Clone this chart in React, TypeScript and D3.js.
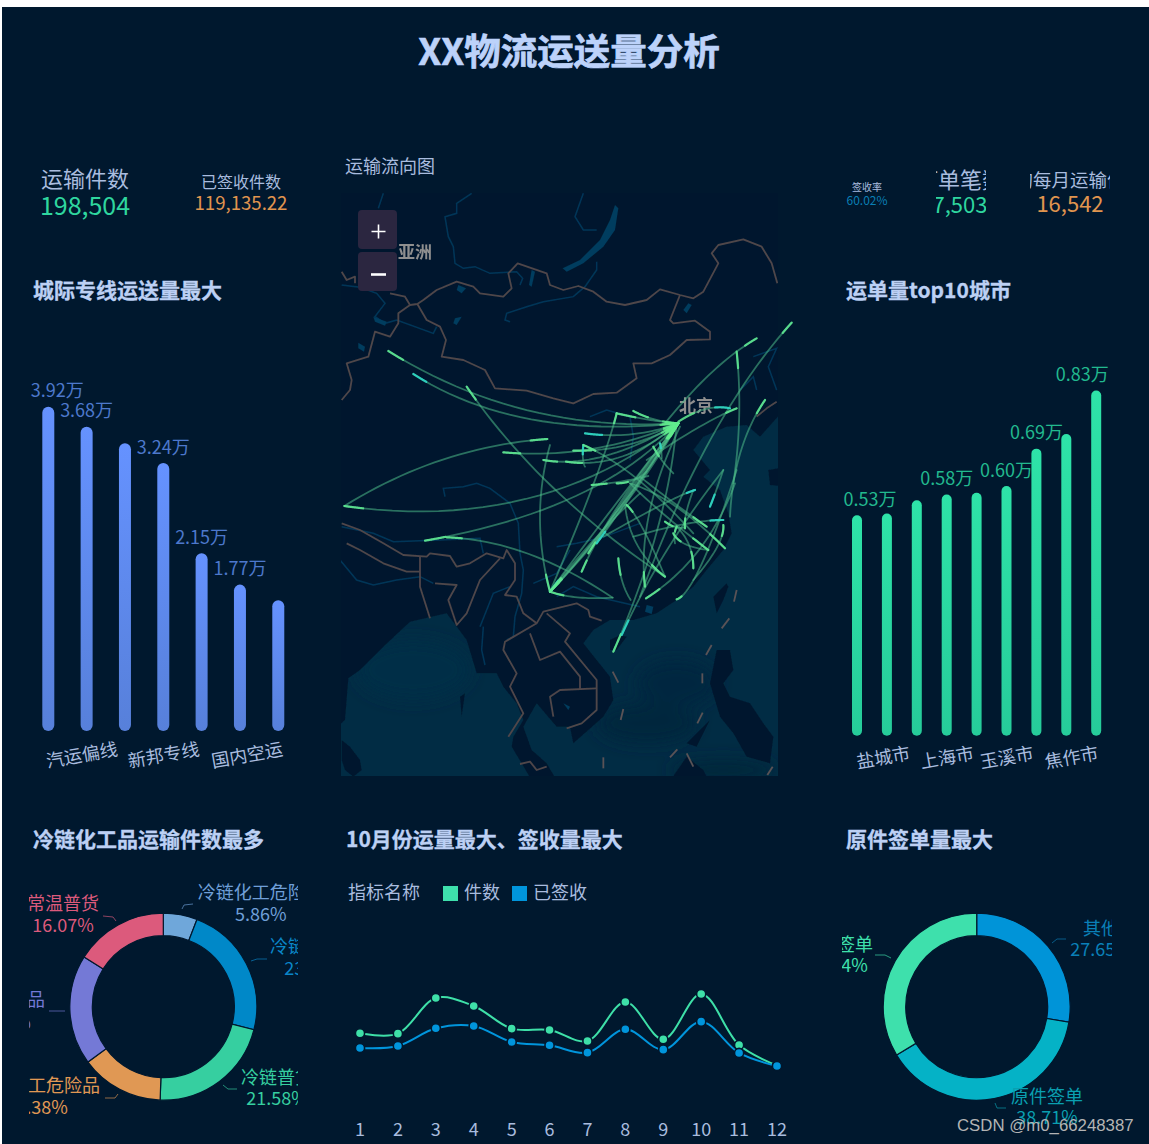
import React from "react";
import * as d3 from "d3";

type Pt = [number, number];

const BG = "#00182e";
const SEA = "#012c44";
const LAND_LINE = "#4f464a";
const RIVER = "#023659";
const TEXT = "#a9bcdf";
const TITLE = "#bcd0f4";
const CJK = "'Noto Sans CJK SC','Noto Sans',sans-serif";

const pageTitle = "XX物流运送量分析";

const barCats1 = ["", "汽运偏线", "", "新邦专线", "", "国内空运", ""];
const barVals1 = [3.92, 3.68, 3.48, 3.24, 2.15, 1.77, 1.58];
const barLabels1 = [true, true, false, true, true, true, false];
const barCats2 = ["盐城市", "", "", "上海市", "", "玉溪市", "", "焦作市", ""];
const barVals2 = [0.53, 0.534, 0.566, 0.58, 0.584, 0.6, 0.69, 0.725, 0.83];
const barLabels2 = [true, false, false, true, false, true, true, false, true];

const months = ["1", "2", "3", "4", "5", "6", "7", "8", "9", "10", "11", "12"];
const pieces = [15300, 15240, 21660, 20220, 16140, 15900, 13920, 20940, 14220, 22380, 13200, 9500];
const signed = [12660, 13020, 16200, 16620, 13740, 13140, 11820, 16020, 12360, 17400, 11760, 9420];

const pie1Names = ["冷链化工危险品", "冷链化工品", "冷链普货", "常温化工危险品", "常温危险品", "常温普货"];
const pie1Vals = [5.86, 23.1, 21.58, 14.38, 19.01, 16.07];
const pie1Colors = ["#6fa7da", "#0088c8", "#36cfa0", "#e09854", "#7479d6", "#dc5a7c"];
const pie1LabelColors = ["#6f9fd8", "#0a86c8", "#36cfa0", "#e09854", "#7479d6", "#dc5a7c"];
const pie2Names = ["其他", "原件签单", "电子签单"];
const pie2Vals = [27.65, 38.71, 33.64];
const pie2Colors = ["#0094d8", "#05b2c6", "#3ee0ac"];
const pie2LabelColors = ["#0a80b8", "#0a9fb0", "#3ee0ac"];

// Map geometry, in the map picture's own units
const landOutline: Pt[] = [[-20, 1740], [15, 1710], [25, 1585], [60, 1560], [130, 1490], [210, 1415], [320, 1390], [380, 1470], [410, 1570], [470, 1570], [490, 1610], [530, 1660], [550, 1710], [520, 1760], [515, 1790], [545, 1840], [580, 1900], [655, 1900], [620, 1840], [575, 1800], [550, 1730], [590, 1660], [650, 1730], [690, 1730], [700, 1780], [790, 1700], [820, 1650], [810, 1580], [770, 1530], [730, 1480], [760, 1440], [810, 1410], [880, 1410], [950, 1390], [1010, 1350], [1060, 1310], [1100, 1260], [1150, 1200], [1175, 1150], [1165, 1090], [1140, 1020], [1090, 980], [1110, 960], [1060, 900], [1090, 860], [1160, 830], [1220, 825], [1260, 860], [1340, 770], [1340, 100], [-20, 100]];
const islands: Pt[][] = [
  [[1160, 1300], [1120, 1340], [1130, 1390], [1150, 1350], [1165, 1310]],
  [[810, 1470], [840, 1455], [860, 1460], [830, 1500], [810, 1500]],
  [[5, 1770], [30, 1790], [60, 1830], [65, 1860], [40, 1880], [15, 1860], [5, 1830]],
  [[1130, 1500], [1170, 1500], [1180, 1560], [1150, 1600], [1170, 1640], [1230, 1660], [1270, 1720], [1300, 1760], [1290, 1840], [1220, 1820], [1180, 1750], [1140, 1700], [1110, 1600], [1120, 1550]],
  [[1040, 1780], [1110, 1710], [1070, 1790]],
  [[985, 1900], [1040, 1820], [1090, 1860], [1110, 1900]],
  [[360, 1640], [375, 1630], [365, 1700]],
  [[1285, 960], [1340, 950], [1340, 1010], [1290, 1005]],
];
const borders: Pt[][] = [
  [[5, 750], [30, 720], [35, 690], [20, 640], [85, 620], [105, 545], [150, 560], [175, 520], [175, 490], [210, 465], [232, 462], [250, 450], [290, 420], [350, 395], [400, 410], [420, 430], [490, 440], [515, 415], [505, 370], [533, 340], [620, 370], [630, 405], [670, 420], [715, 408], [760, 425], [800, 455], [855, 465], [920, 450], [960, 418], [1020, 435], [1060, 445], [1090, 425], [1135, 340], [1115, 310], [1135, 285], [1210, 268], [1265, 290], [1295, 340], [1312, 400]],
  [[150, 430], [195, 440], [210, 465]],
  [[5, 365], [20, 390], [45, 380], [45, 400]],
  [[232, 462], [260, 510], [300, 530], [318, 570], [305, 620], [370, 630], [435, 660], [465, 715], [560, 722], [640, 745], [700, 760], [760, 732], [830, 728], [890, 685], [880, 640], [935, 640], [990, 615], [1040, 570], [1110, 568], [1110, 545], [1065, 512], [1000, 520], [990, 510], [1020, 435]],
  [[5, 1120], [60, 1140], [130, 1180], [190, 1215], [260, 1220], [270, 1210], [330, 1218], [350, 1250], [390, 1240], [440, 1210], [490, 1225], [500, 1200], [525, 1240], [525, 1290], [495, 1335], [530, 1340], [550, 1390], [590, 1420], [610, 1385], [710, 1360], [745, 1380], [750, 1400], [785, 1412]],
  [[20, 1180], [60, 1200], [130, 1240], [200, 1265], [240, 1265]],
  [[240, 1220], [240, 1310], [270, 1405]],
  [[285, 1300], [350, 1305], [325, 1350], [350, 1425], [380, 1390], [420, 1290], [480, 1225]],
  [[590, 1420], [495, 1475], [490, 1500], [530, 1570], [510, 1610], [550, 1690], [505, 1760]],
  [[620, 1390], [690, 1450], [675, 1475], [770, 1590], [770, 1680], [725, 1720], [680, 1735]],
  [[570, 1450], [600, 1530], [660, 1505], [720, 1580], [720, 1620]],
  [[640, 1700], [630, 1640], [660, 1620], [770, 1615]],
  [[540, 1842], [570, 1835], [590, 1860], [620, 1850]],
  [[1250, 800], [1280, 775], [1310, 755]],
];
const dashes: Pt[][] = [
  [[1190, 1320], [1182, 1355]], [[1168, 1405], [1145, 1435]], [[1115, 1485], [1098, 1515]],
  [[1087, 1570], [1087, 1600]], [[1088, 1688], [1072, 1720]], [[1012, 1798], [990, 1822]],
  [[818, 1565], [835, 1598]], [[850, 1677], [842, 1710]], [[790, 1822], [790, 1855]],
  [[1040, 1810], [1060, 1850]], [[1298, 1850], [1282, 1875]],
];
const rivers: Pt[][] = [
  [[130, 130], [115, 175]],
  [[395, 130], [350, 160], [350, 190], [315, 200], [325, 260], [340, 290], [345, 340], [370, 355], [405, 350], [450, 370], [530, 365], [548, 385], [540, 405]],
  [[730, 130], [705, 200], [730, 240], [770, 240]],
  [[770, 335], [770, 360], [735, 410], [700, 440], [610, 455], [560, 470], [500, 490], [495, 510], [510, 515]],
  [[5, 405], [60, 412], [110, 430], [135, 460], [105, 500], [135, 520], [170, 510], [280, 550], [290, 530]],
  [[750, 800], [800, 780], [870, 800], [880, 860], [870, 930]],
  [[1240, 620], [1310, 595], [1285, 650], [1310, 720]],
  [[1200, 720], [1240, 680], [1250, 720]],
  [[315, 1040], [310, 1015], [370, 1010], [410, 1000], [450, 1015], [510, 1060], [535, 1120], [540, 1210], [550, 1260], [545, 1330], [525, 1400], [520, 1460], [500, 1470]],
  [[0, 1230], [50, 1290], [100, 1305], [170, 1290], [240, 1280], [280, 1300]],
  [[5, 1130], [100, 1150], [160, 1175], [300, 1170], [420, 1165], [430, 1210]],
  [[420, 1430], [460, 1330], [510, 1310]],
  [[430, 1430], [425, 1500], [435, 1545]],
  [[650, 1190], [710, 1180], [780, 1165], [900, 1120]],
  [[580, 1300], [650, 1270], [690, 1200]],
  [[650, 1340], [700, 1310], [770, 1340], [900, 1370]],
];
const lakes: Pt[][] = [
  [[825, 165], [835, 175], [825, 240], [790, 290], [730, 340], [680, 365], [668, 355], [720, 330], [780, 270], [810, 210]],
  [[575, 360], [585, 365], [575, 410], [567, 405]],
  [[355, 405], [378, 415], [365, 430], [350, 420]],
  [[345, 505], [365, 500], [350, 525], [340, 520]],
  [[55, 578], [75, 590], [72, 605], [55, 595]],
  [[1045, 460], [1055, 465], [1040, 490], [1030, 480]],
  [[100, 500], [140, 515], [135, 527], [105, 515]],
  [[920, 1365], [940, 1370], [935, 1392], [915, 1385]],
  [[670, 1660], [690, 1670], [685, 1680]],
];
const seaShades: [number, number, number, number, string][] = [
  [920, 1720, 150, 60, "#01253d"], [1010, 1600, 120, 70, "#012640"], [220, 1560, 170, 90, "#012e47"],
  [1150, 1860, 160, 30, "#01253a"],
];

// start x, y, control x, y, end x, y, cyan head
const routes: [number, number, number, number, number, number, number][] = [
  [145, 603, 540, 849, 1015, 820, 0], [220, 672, 530, 870, 1015, 820, 1], [380, 710, 600, 1030, 975, 1280, 0],
  [622, 867, 300, 890, 13, 1068, 0], [13, 1068, 600, 1150, 1015, 820, 0], [255, 1172, 780, 1080, 1015, 820, 0],
  [320, 1162, 560, 1170, 818, 1343, 0], [490, 907, 760, 930, 1015, 820, 0], [700, 902, 880, 905, 1015, 820, 0],
  [735, 850, 880, 870, 1015, 820, 1], [830, 790, 790, 950, 630, 1325, 0], [830, 790, 940, 815, 1015, 820, 0],
  [610, 930, 780, 960, 1015, 820, 0], [678, 935, 850, 960, 1015, 820, 0], [730, 885, 725, 930, 735, 950, 1],
  [730, 885, 880, 950, 1060, 1150, 0], [880, 783, 940, 815, 1015, 820, 0], [1250, 565, 1120, 640, 975, 820, 0],
  [1190, 605, 1210, 800, 1180, 1000, 0], [1355, 518, 1100, 800, 900, 1340, 0], [1275, 750, 1180, 890, 1170, 1100, 0],
  [1190, 775, 1100, 810, 920, 930, 0], [1170, 775, 1100, 760, 1015, 815, 1], [820, 1505, 985, 1130, 1010, 820, 0],
  [845, 1455, 960, 1200, 1150, 960, 1], [630, 1325, 780, 1120, 1015, 820, 1], [630, 1325, 830, 1110, 1015, 820, 0],
  [630, 1325, 860, 1090, 1015, 820, 0], [630, 1325, 800, 1150, 1015, 820, 0], [630, 1325, 570, 1100, 630, 885, 0],
  [725, 1265, 800, 1090, 1015, 820, 0], [745, 1210, 840, 1060, 1015, 820, 0], [770, 1180, 880, 1030, 1015, 820, 1],
  [835, 1225, 840, 1300, 872, 1350, 0], [1010, 1348, 1070, 1330, 1190, 960, 0], [918, 1345, 1100, 1230, 1185, 1000, 0],
  [915, 1310, 890, 1100, 1020, 830, 0], [975, 1280, 870, 1200, 855, 1065, 0], [1155, 1195, 1000, 1040, 870, 1000, 0],
  [1105, 1200, 960, 1090, 870, 1000, 0], [1100, 1130, 1000, 1060, 900, 980, 0], [1150, 1110, 1050, 1110, 880, 1160, 1],
  [1065, 1020, 1000, 1040, 790, 1160, 1], [1110, 1070, 1130, 1020, 1150, 960, 1], [1000, 1150, 1020, 1190, 1105, 1200, 0],
  [1060, 1255, 1060, 1180, 1010, 1130, 0], [1150, 1125, 1155, 1180, 1060, 1290, 0], [975, 1115, 1010, 1140, 1035, 1132, 0],
  [1010, 1130, 1000, 1150, 1005, 1180, 0], [755, 1005, 830, 1000, 925, 978, 0], [830, 1000, 880, 1000, 920, 965, 0],
  [960, 880, 965, 900, 965, 925, 1], [940, 890, 960, 930, 1000, 970, 0], [1035, 1135, 1030, 1100, 1060, 1020, 0],
  [860, 1065, 900, 1100, 975, 1280, 0], [630, 1325, 700, 1350, 818, 1343, 0], [630, 1325, 760, 1160, 900, 1030, 0],
];

const mx = d3.scaleLinear().domain([0, 1380]).range([340, 800]);
const my = d3.scaleLinear().domain([0, 1920]).range([150, 790]);
const mapLine = d3.line<Pt>().x((d) => mx(d[0])).y((d) => my(d[1]));
const mapPoly = (p: Pt[]) => mapLine(p) + "Z";

function bezier(r: number[], t: number): Pt {
  const u = 1 - t;
  return [u * u * r[0] + 2 * u * t * r[2] + t * t * r[4], u * u * r[1] + 2 * u * t * r[3] + t * t * r[5]];
}
function curve(r: number[], t0: number, t1: number) {
  return mapLine(d3.range(0, 25).map((i) => bezier(r, t0 + ((t1 - t0) * i) / 24)));
}
const headLen = (r: number[]) => Math.min(0.35, 50 / Math.hypot(r[4] - r[0], r[5] - r[1]));

function Bars({ vals, cats, show, x0, step, w, base, perUnit, color, labelColor, id, labelPos, catPos, catY }: any) {
  const x = (i: number) => x0 + i * step;
  const y = d3.scaleLinear().domain([0, 1]).range([base, base - perUnit]);
  return (
    <g>
      <defs>
        <linearGradient id={id} x1="0" y1="0" x2="0" y2="1">
          <stop offset="0" stopColor={color[0]} />
          <stop offset="1" stopColor={color[1]} />
        </linearGradient>
      </defs>
      {vals.map((v: number, i: number) => (
        <rect key={i} x={x(i) - w / 2} y={y(v)} width={w} height={base - y(v)} rx={w / 2} fill={`url(#${id})`} />
      ))}
      {vals.map((v: number, i: number) =>
        show[i] ? (
          <text key={i} x={x(i) + labelPos(i)} y={y(v) - 9.5} textAnchor="middle" fontSize={18} fill={labelColor} fontFamily={CJK}>
            {v.toFixed(2)}万
          </text>
        ) : null,
      )}
      {cats.map((c: string, i: number) =>
        c ? (
          <text key={i} x={x(i) + catPos(i)} y={catY} textAnchor="middle" dominantBaseline="central" fontSize={18} fill={TEXT} fontFamily={CJK} transform={`rotate(-10 ${x(i) + catPos(i)} ${catY})`}>
            {c}
          </text>
        ) : null,
      )}
    </g>
  );
}

function Donut({ vals, colors, cx, cy }: any) {
  const arcs = d3.pie<number>().sort(null)(vals);
  const a = d3.arc<any>().innerRadius(71).outerRadius(93.5);
  return (
    <g transform={`translate(${cx} ${cy})`}>
      {arcs.map((d, i) => (
        <path key={i} d={a(d) as string} fill={colors[i]} stroke={BG} strokeWidth={1.2} />
      ))}
    </g>
  );
}

const pie1Label: [number, number, number][] = [[260.7, 891, 913], [315, 945, 967], [277, 1076, 1097], [37, 1084, 1106], [0, 998, 1021], [63, 902, 924]];
const pie1Leader: Pt[][] = [
  [[182, 909], [184, 905], [193, 904]], [[251, 961], [257, 959], [267, 959]], [[223, 1085], [228, 1089], [237, 1089]],
  [[118, 1094], [115, 1098], [105, 1098]], [[65, 1011], [49, 1011]], [[116, 921], [113, 917], [103, 916]],
];
const pie2Label: [number, number, number][] = [[1101, 927, 948], [1047, 1095, 1116], [837, 943, 964]];
const pie2Leader: Pt[][] = [[[1052, 943], [1057, 939], [1066, 939]], [[995, 1103], [997, 1108], [1006, 1108]], [[891, 958], [885, 955], [875, 955]]];

function PieLabels({ names, vals, colors, pos, leaders, clip }: any) {
  const l = d3.line<Pt>();
  return (
    <g>
      {leaders.map((p: Pt[], i: number) => (
        <path key={i} d={l(p) as string} fill="none" stroke={colors[i]} strokeOpacity={0.65} strokeWidth={1} />
      ))}
      <g clipPath={`url(#${clip})`} fontFamily={CJK} fontSize={18} textAnchor="middle">
        {names.map((n: string, i: number) => (
          <g key={i} fill={colors[i]}>
            <text x={pos[i][0]} y={pos[i][1]} dominantBaseline="central">{n}</text>
            <text x={pos[i][0]} y={pos[i][2]} dominantBaseline="central">{vals[i].toFixed(2)}%</text>
          </g>
        ))}
      </g>
    </g>
  );
}

function Stat({ x, y1, y2, label, value, s1, s2, color, clip }: any) {
  return (
    <g clipPath={clip ? `url(#${clip})` : undefined} fontFamily={CJK} textAnchor="middle">
      <text x={x} y={y1} fontSize={s1} fill={TEXT} dominantBaseline="central">{label}</text>
      <text x={x} y={y2} fontSize={s2} fill={color} dominantBaseline="central">{value}</text>
    </g>
  );
}

function MapPanel() {
  return (
    <g>
      <defs>
        <clipPath id="mapClip"><rect x={341} y={193} width={437} height={583} /></clipPath>
        <filter id="soft" x="-5%" y="-5%" width="110%" height="110%"><feGaussianBlur stdDeviation="0.5" /></filter>
        <filter id="softLine" x="-5%" y="-5%" width="110%" height="110%"><feGaussianBlur stdDeviation="0.3" /></filter>
        <filter id="shade" x="-30%" y="-30%" width="160%" height="160%"><feGaussianBlur stdDeviation="8" /></filter>
        <filter id="blurText" x="-20%" y="-20%" width="140%" height="140%"><feGaussianBlur stdDeviation="0.6" /></filter>
      </defs>
      <g clipPath="url(#mapClip)">
        <rect x={341} y={193} width={437} height={583} fill={SEA} />
        <g filter="url(#shade)">
          {seaShades.map((s, i) => (
            <ellipse key={i} cx={mx(s[0])} cy={my(s[1])} rx={s[2] / 3} ry={s[3] / 3} fill={s[4]} />
          ))}
        </g>
        <g filter="url(#soft)">
          <path d={mapPoly(landOutline)} fill={BG} />
          {islands.map((p, i) => <path key={i} d={mapPoly(p)} fill={BG} />)}
          {rivers.map((p, i) => <path key={i} d={mapLine(p) as string} fill="none" stroke={RIVER} strokeWidth={1.5} />)}
          {lakes.map((p, i) => <path key={i} d={mapPoly(p)} fill="#023c5e" />)}
          {borders.map((p, i) => <path key={i} d={mapLine(p) as string} fill="none" stroke={LAND_LINE} strokeWidth={1.8} strokeLinejoin="round" />)}
          {dashes.map((p, i) => <path key={i} d={mapLine(p) as string} fill="none" stroke="#5a5256" strokeWidth={1.8} />)}
        </g>
        <g filter="url(#blurText)" fontFamily={CJK} fontWeight={700} fontSize={17} fill="#8f8f8f">
          <text x={398} y={258}>亚洲</text>
          <text x={679} y={412}>北京</text>
        </g>
      </g>
      <g fill="none" strokeLinecap="round" filter="url(#softLine)">
        {routes.map((r, i) => (
          <path key={i} d={curve(r, 0, 1) as string} stroke="#4cbc88" strokeOpacity={0.55} strokeWidth={1.8} />
        ))}
        {routes.map((r, i) => (
          <path key={i} d={curve(r, 0, headLen(r)) as string} stroke={r[6] ? "#2fd8c6" : "#5ee792"} strokeOpacity={0.9} strokeWidth={2.2} />
        ))}
        {routes.filter((r) => r[4] === 1015).map((r, i) => (
          <path key={i} d={curve(r, 1 - headLen(r) * 0.9, 1) as string} stroke="#62ec8e" strokeOpacity={0.75} strokeWidth={2.2} />
        ))}
      </g>
      <g>
        <rect x={358} y={210} width={39} height={39} rx={4} fill="#2b2640" />
        <rect x={358} y={252} width={39} height={39} rx={4} fill="#2b2640" />
        <path d="M371.5 231.5h14M378.5 224.5v14" stroke="#fff" strokeWidth={1.6} />
        <path d="M371 274.5h15" stroke="#fff" strokeWidth={2.6} />
      </g>
    </g>
  );
}

function LineChart() {
  const x = d3.scalePoint<string>().domain(months).range([360, 777]);
  const y = d3.scaleLinear().domain([0, 24000]).range([1118.3, 985]);
  const line = d3.line<number>().x((_, i) => x(months[i]) as number).y((d) => y(d)).curve(d3.curveCatmullRom.alpha(0.5));
  const series: [number[], string][] = [[pieces, "#3ee0a8"], [signed, "#0095dc"]];
  return (
    <g fontFamily={CJK}>
      <text x={348} y={891} fontSize={18} fill={TEXT} dominantBaseline="central">指标名称</text>
      <rect x={443} y={886} width={15} height={15} fill="#3ee0ac" />
      <text x={464} y={891} fontSize={18} fill={TEXT} dominantBaseline="central">件数</text>
      <rect x={512} y={886} width={15} height={15} fill="#0095dc" />
      <text x={533} y={891} fontSize={18} fill={TEXT} dominantBaseline="central">已签收</text>
      {series.map(([v, c], k) => (
        <g key={k}>
          <path d={line(v) as string} fill="none" stroke={c} strokeWidth={2} />
          {v.map((d, i) => (
            <circle key={i} cx={x(months[i])} cy={y(d)} r={4.6} fill={c} stroke={BG} strokeWidth={1.6} />
          ))}
        </g>
      ))}
      {months.map((m) => (
        <text key={m} x={x(m)} y={1128} textAnchor="middle" dominantBaseline="central" fontSize={18} fill={TEXT}>{m}</text>
      ))}
    </g>
  );
}

export default function App() {
  const sectionTitle = (t: string, x: number, y: number) => (
    <text x={x} y={y} fontSize={21} fontWeight={700} fill={TITLE} stroke={TITLE} strokeWidth={0.3} fontFamily={CJK} dominantBaseline="central">{t}</text>
  );
  return (
    <svg width={1149} height={1144} viewBox="0 0 1149 1144" style={{ position: "absolute", left: 0, top: 0, background: "#fff" }}>
      <defs>
        <clipPath id="c1"><rect x={29} y={880} width={269} height={260} /></clipPath>
        <clipPath id="c2"><rect x={842} y={890} width={270} height={250} /></clipPath>
        <clipPath id="s1"><rect x={936} y={160} width={50} height={60} /></clipPath>
        <clipPath id="s2"><rect x={1030} y={160} width={80} height={60} /></clipPath>
      </defs>
      <rect x={2} y={7} width={1147} height={1137} fill={BG} />
      <text x={569} y={49} textAnchor="middle" dominantBaseline="central" fontSize={36.5} fontWeight={700} fill="#bcd2fa" stroke="#bcd2fa" strokeWidth={0.7} fontFamily={CJK}>{pageTitle}</text>

      <Stat x={85} y1={176.5} y2={203.5} label="运输件数" value="198,504" s1={22} s2={25} color="#2fd69f" />
      <Stat x={241} y1={180.5} y2={201} label="已签收件数" value="119,135.22" s1={16} s2={18.6} color="#e0954f" />
      <Stat x={867} y1={186} y2={199} label="签收率" value="60.02%" s1={10} s2={12} color="#0a7fb5" />
      <Stat x={960} y1={178} y2={203} label="订单笔数" value="7,503" s1={22} s2={22} color="#2fd69f" clip="s1" />
      <Stat x={1070} y1={179} y2={201.5} label="平均每月运输件数" value="16,542" s1={18.5} s2={22} color="#e0954f" clip="s2" />

      <text x={345} y={164.5} fontSize={18} fill={TEXT} fontFamily={CJK} dominantBaseline="central">运输流向图</text>
      {sectionTitle("城际专线运送量最大", 33, 289)}
      {sectionTitle("运单量top10城市", 846, 289)}
      {sectionTitle("冷链化工品运输件数最多", 33, 838)}
      {sectionTitle("10月份运量最大、签收量最大", 346, 838)}
      {sectionTitle("原件签单量最大", 846, 838)}

      <Bars id="gb" vals={barVals1} cats={barCats1} show={barLabels1} x0={48.3} step={38.33} w={12} base={731} perUnit={82.7}
        color={["#6592ff", "#5780da"]} labelColor="#4d78cc" catY={753.5}
        labelPos={(i: number) => (i === 0 ? 9 : 0)} catPos={(i: number) => (i === 1 ? -5 : i === 5 ? 7 : 0)} />
      <Bars id="gg" vals={barVals2} cats={barCats2} show={barLabels2} x0={857} step={29.9} w={10} base={735.7} perUnit={416}
        color={["#2ee3a8", "#26cc9a"]} labelColor="#22b98e" catY={756}
        labelPos={(i: number) => (i === 0 ? 13 : i === 8 ? -14 : 0)} catPos={(i: number) => (i === 0 ? 26 : i === 7 ? 5 : 0)} />

      <MapPanel />
      <LineChart />

      <Donut vals={pie1Vals} colors={pie1Colors} cx={163.3} cy={1006.7} />
      <PieLabels names={pie1Names} vals={pie1Vals} colors={pie1LabelColors} pos={pie1Label} leaders={pie1Leader} clip="c1" />
      <Donut vals={pie2Vals} colors={pie2Colors} cx={976.7} cy={1006.7} />
      <PieLabels names={pie2Names} vals={pie2Vals} colors={pie2LabelColors} pos={pie2Label} leaders={pie2Leader} clip="c2" />

      <text x={957} y={1131} fontSize={16.8} fill="#b4b4b4" fontFamily="'Liberation Sans',Arial,sans-serif">CSDN @m0_66248387</text>
    </svg>
  );
}
